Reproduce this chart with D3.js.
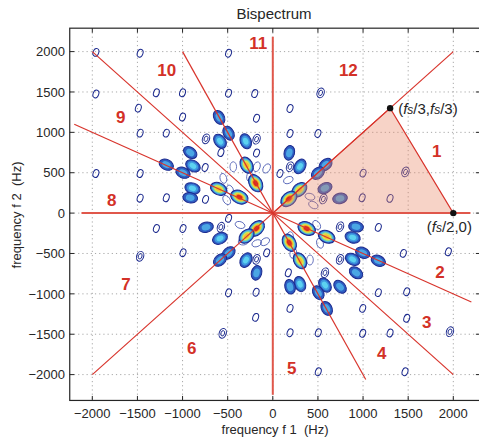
<!doctype html>
<html>
<head>
<meta charset="utf-8">
<title>Bispectrum</title>
<script src="https://cdn.jsdelivr.net/npm/d3@7"></script>
<style>
  body { margin: 0; background: #fff; }
  svg text { font-family: "Liberation Sans", Arial, Helvetica, sans-serif; fill: #262626; }
  .grid line { stroke: #a8a8a8; stroke-dasharray: 1.2,3; }
  .sector { fill: none; stroke: #d8342c; stroke-width: 1.2; }
  .axisline { fill: none; stroke: #e0574b; stroke-width: 2; }
  .num { fill: #d33127 !important; font-weight: bold; font-size: 17px; }
</style>
</head>
<body>
<div id="chart"></div>
<script>
// tick values (Hz)
var ticks = [-2000, -1500, -1000, -500, 0, 500, 1000, 1500, 2000];

// bispectrum peaks: [f1, f2, contour level]
// level 1-2 = outline only, 3 = blue, 4 = cyan, 5 = yellow, 6 = red
var peaks = [
  // f1 < 0, f2 > 0
  [-1960, 1990, 1], [-1470, 1980, 1], [-490, 1980, 1], [-1960, 1475, 1],
  [-1290, 1490, 1], [-1000, 1490, 1], [-490, 1485, 1], [-200, 1480, 1],
  [-1490, 1300, 1], [-1000, 1190, 1], [-180, 1175, 1], [-1470, 990, 1],
  [-1180, 990, 1], [-1960, 490, 1], [-1470, 490, 1], [-1470, 185, 1],
  [-1180, 190, 1], [-740, 920, 2], [-180, 915, 2], [-575, 750, 1],
  [-180, 745, 1], [-750, 565, 1], [-745, 170, 1],
  [-595, 1185, 3], [-490, 990, 3], [-585, 890, 4], [-300, 890, 4],
  [-915, 750, 3], [-885, 585, 4], [-1180, 600, 3], [-995, 500, 3],
  [-890, 306, 4], [-915, 190, 3], [-600, 300, 5], [-370, 198, 6],
  [-290, 594, 5], [-190, 370, 6],
  // f1 < 0, f2 < 0
  [-1290, -190, 1], [-995, -190, 1], [-740, -175, 3], [-575, -175, 2],
  [-490, -65, 1], [-585, -313, 4], [-180, -190, 6], [-290, -285, 5],
  [-1470, -535, 2], [-995, -490, 1], [-490, -495, 3], [-585, -582, 3],
  [-297, -582, 4], [-180, -573, 2], [-68, -491, 1], [-180, -740, 3],
  [-490, -986, 1], [-185, -980, 1], [-190, -1291, 1], [-555, -1489, 2],
  // f1 > 0, f2 < 0
  [375, -190, 6], [597, -293, 5], [183, -367, 6], [301, -590, 5],
  [745, -169, 2], [922, -169, 3], [1169, -177, 1], [885, -301, 4],
  [996, -491, 3], [1169, -590, 3], [745, -573, 2], [885, -573, 4],
  [922, -739, 3], [578, -739, 2], [172, -739, 1], [301, -879, 4],
  [191, -912, 3], [578, -891, 4], [745, -912, 3], [504, -986, 3],
  [597, -1180, 3], [191, -1180, 1], [996, -1180, 1], [1169, -985, 1],
  [504, -1481, 1], [191, -1481, 1], [1299, -1485, 1], [996, -1489, 1],
  [1446, -499, 1], [1945, -479, 1], [1484, -974, 1], [1484, -1303, 1],
  [1963, -1469, 2], [1465, -1964, 1], [504, -1964, 1],
  // f1 > 0, f2 > 0
  [530, 1489, 2], [191, 1296, 1], [191, 986, 1], [500, 986, 1],
  [183, 746, 3], [301, 578, 4], [191, 574, 2], [80, 491, 1],
  [585, 600, 3], [500, 495, 3], [294, 290, 5], [178, 176, 6],
  [578, 310, 3], [560, 175, 2], [745, 182, 3], [1000, 495, 1],
  [990, 190, 1], [1299, 182, 1], [1470, 510, 2]
];

// low-level contour fragments around the strong peaks: [f1, f2]
var noise = [
  [-438, 574], [-178, 574], [-68, 553], [-548, 430], [-474, 286],
  [-511, 162], [-253, 450],
  [-363, -147], [-178, -374], [-86, -354], [-327, -354],
  [486, -147], [523, -374], [227, -498], [412, -581], [191, -293],
  [172, 409], [412, 203], [449, 100]
];

// symmetry-region boundaries (Hz)
var sectorLines = [
  [[-2000, -2000], [2000, 2000]],
  [[-2000, 2000], [2000, -2000]],
  [[-2200, 1100], [2200, -1100]],
  [[-1000, 2000], [1030, -2060]]
];
var axisLines = [
  [[-2120, 0], [2190, 0]],
  [[0, 2185], [0, -2250]]
];

// principal region triangle and its corners
var triangle = [[0, 0], [1300, 1300], [2000, 0]];
var corners = [[1300, 1300], [2000, 0]];

// region numbers with their positions (Hz)
var regionNames = ["1", "2", "3", "4", "5", "6", "7", "8", "9", "10", "11", "12"];
var regionF1 = [1816, 1853, 1705, 1207, 209, -899, -1627, -1785, -1685, -1176, -161, 837];
var regionF2 = [769, -726, -1345, -1736, -1922, -1674, -878, 162, 1194, 1772, 2103, 1772];

var W = 479, H = 441;
var x = d3.scaleLinear().domain([-2000, 2000]).range([92.3, 453.3]);
var y = d3.scaleLinear().domain([-2000, 2000]).range([374.6, 51.6]);
var pl = x(-2250), pr = x(2300), pt = y(2290), pb = y(-2320);

var svg = d3.select("#chart").append("svg")
    .attr("width", W)
    .attr("height", H);

svg.append("defs").append("clipPath").attr("id", "plot")
  .append("rect")
    .attr("x", pl).attr("y", pt)
    .attr("width", pr - pl).attr("height", pb - pt);

// grid
var grid = svg.append("g").attr("class", "grid");
grid.selectAll(".gx").data(ticks).enter().append("line")
    .attr("x1", function(d) { return x(d); }).attr("x2", function(d) { return x(d); })
    .attr("y1", pt).attr("y2", pb);
grid.selectAll(".gy").data(ticks).enter().append("line")
    .attr("y1", function(d) { return y(d); }).attr("y2", function(d) { return y(d); })
    .attr("x1", pl).attr("x2", pr);

var plot = svg.append("g").attr("clip-path", "url(#plot)");

// contour blobs
var navy = "#1c2a8e";
var layers = {
  3: ["#2e5ec2", "#4aa6e4"],
  4: ["#2e5ec2", "#3f9ae0", "#5cd2f0"],
  5: ["#2e5ec2", "#48b4e8", "#8fdc8a", "#e6e24a", "#f2c030"],
  6: ["#2e5ec2", "#48b4e8", "#9adc80", "#f0dc34", "#f09a28", "#dc2a1c"]
};
var outerSize = {3: [7.4, 5.2], 4: [7.8, 5.5], 5: [8.6, 6], 6: [9.2, 6.4]};

function radialAngle(d) {
  var dx = x(d[0]) - x(0), dy = y(d[1]) - y(0);
  return Math.atan2(dy, dx) * 180 / Math.PI;
}

plot.selectAll(".noise").data(noise).enter().append("ellipse")
    .attr("class", "noise")
    .attr("transform", function(d) {
      return "translate(" + x(d[0]) + "," + y(d[1]) + ") rotate(" + (radialAngle(d) + 40) + ")";
    })
    .attr("rx", 5).attr("ry", 3.3)
    .attr("fill", "none").attr("stroke", "#4656b0").attr("stroke-width", 0.8);

var blob = plot.selectAll(".peak").data(peaks).enter().append("g")
    .attr("class", "peak")
    .attr("transform", function(d) {
      var a = d[2] <= 2 ? -70 : radialAngle(d);
      return "translate(" + x(d[0]) + "," + y(d[1]) + ") rotate(" + a + ")";
    });

blob.each(function(d) {
  var g = d3.select(this), lv = d[2];
  if (lv <= 2) {
    g.append("ellipse").attr("rx", lv == 1 ? 4 : 5).attr("ry", lv == 1 ? 2.8 : 3.5)
        .attr("fill", "none").attr("stroke", navy).attr("stroke-width", 1);
    if (lv == 2) {
      g.append("ellipse").attr("rx", 2.8).attr("ry", 1.8)
          .attr("fill", "none").attr("stroke", navy).attr("stroke-width", 0.9);
    }
    return;
  }
  var sz = outerSize[lv], cols = layers[lv], n = cols.length;
  cols.forEach(function(c, j) {
    var s = 1 - 0.8 * j / n;
    var e = g.append("ellipse").attr("rx", sz[0] * s).attr("ry", sz[1] * s).attr("fill", c);
    if (j == 0) e.attr("stroke", navy).attr("stroke-width", 1);
  });
});

// shaded principal region
var line = d3.line().x(function(d) { return x(d[0]); }).y(function(d) { return y(d[1]); });
plot.append("path")
    .datum(triangle)
    .attr("d", line.curve(d3.curveLinearClosed))
    .attr("fill", "rgb(232,134,100)").attr("fill-opacity", 0.36)
    .attr("stroke", "#d8342c").attr("stroke-width", 1.2);
line.curve(d3.curveLinear);

plot.selectAll(".axisline").data(axisLines).enter().append("path")
    .attr("class", "axisline").attr("d", line);
plot.selectAll(".sector").data(sectorLines).enter().append("path")
    .attr("class", "sector").attr("d", line);

plot.selectAll(".corner").data(corners).enter().append("circle")
    .attr("cx", function(d) { return x(d[0]); })
    .attr("cy", function(d) { return y(d[1]); })
    .attr("r", 3.2).attr("fill", "#111");

// corner labels
function fsLabel(t, parts) {
  parts.forEach(function(p) {
    if (p == "fs") {
      t.append("tspan").attr("font-style", "italic").text("f");
      t.append("tspan").attr("font-style", "italic").attr("font-size", "12px").text("s");
    } else {
      t.append("tspan").text(p);
    }
  });
}
var l1 = svg.append("text").attr("x", x(1300) + 8).attr("y", y(1300) + 6).attr("font-size", "15px");
fsLabel(l1, ["(", "fs", "/3,", "fs", "/3)"]);
var l2 = svg.append("text").attr("x", x(2000) - 4).attr("y", y(0) + 19)
    .attr("text-anchor", "middle").attr("font-size", "15px");
fsLabel(l2, ["(", "fs", "/2,0)"]);

// region numbers
svg.selectAll(".num").data(regionNames).enter().append("text")
    .attr("class", "num")
    .attr("x", function(d, i) { return x(regionF1[i]); })
    .attr("y", function(d, i) { return y(regionF2[i]); })
    .attr("text-anchor", "middle")
    .attr("dy", "0.36em")
    .text(function(d) { return d; });

// frame and inward ticks
svg.append("rect")
    .attr("x", pl).attr("y", pt)
    .attr("width", pr - pl).attr("height", pb - pt)
    .attr("fill", "none").attr("stroke", "#262626").attr("stroke-width", 1.2);

var tk = svg.append("g").attr("stroke", "#262626").attr("stroke-width", 1);
ticks.forEach(function(t) {
  tk.append("line").attr("x1", x(t)).attr("x2", x(t)).attr("y1", pb).attr("y2", pb - 4.5);
  tk.append("line").attr("x1", x(t)).attr("x2", x(t)).attr("y1", pt).attr("y2", pt + 4.5);
  tk.append("line").attr("y1", y(t)).attr("y2", y(t)).attr("x1", pl).attr("x2", pl + 4.5);
  tk.append("line").attr("y1", y(t)).attr("y2", y(t)).attr("x1", pr).attr("x2", pr - 4.5);
});

var fmt = function(d) { return d < 0 ? "\u2212" + (-d) : "" + d; };
svg.selectAll(".xt").data(ticks).enter().append("text")
    .attr("x", function(d) { return x(d); })
    .attr("y", 418)
    .attr("text-anchor", "middle")
    .attr("font-size", "13px")
    .text(fmt);
svg.selectAll(".yt").data(ticks).enter().append("text")
    .attr("x", 65)
    .attr("y", function(d) { return y(d); })
    .attr("dy", "0.36em")
    .attr("text-anchor", "end")
    .attr("font-size", "13px")
    .text(fmt);

// titles
svg.append("text").attr("x", 274).attr("y", 19).attr("text-anchor", "middle")
    .attr("font-size", "15px").text("Bispectrum");
svg.append("text").attr("x", 275).attr("y", 434).attr("text-anchor", "middle")
    .attr("font-size", "13px").style("white-space", "pre").text("frequency f 1  (Hz)");
svg.append("text").attr("transform", "translate(21,215) rotate(-90)")
    .attr("text-anchor", "middle")
    .attr("font-size", "13px").style("white-space", "pre").text("frequency f 2  (Hz)");
</script>
</body>
</html>
